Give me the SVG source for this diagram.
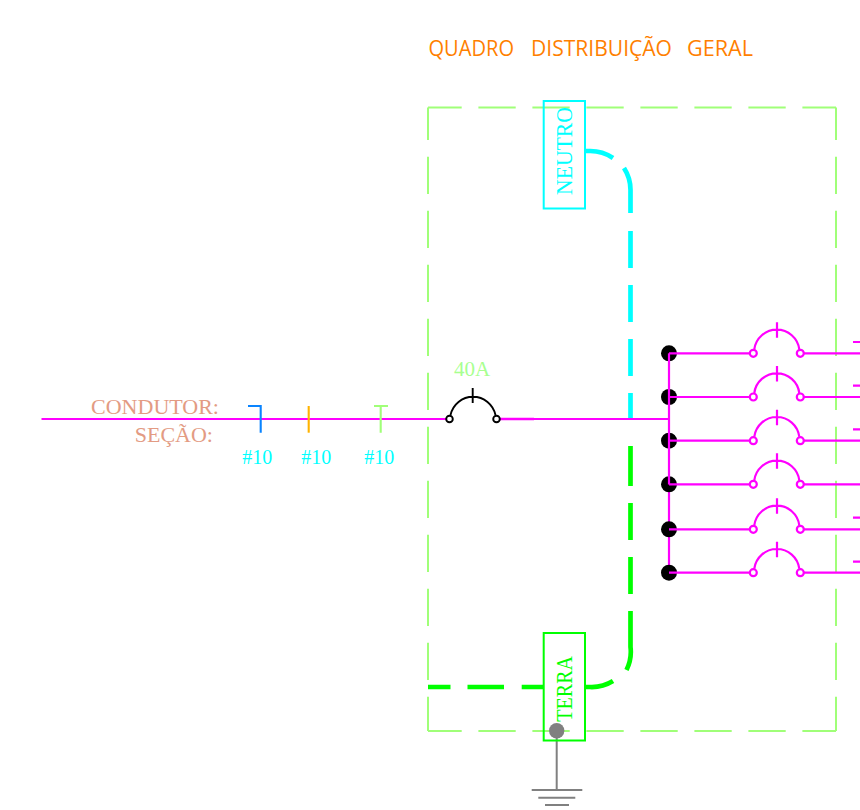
<svg xmlns="http://www.w3.org/2000/svg" width="860" height="810" viewBox="0 0 860 810">
<style>
text{font-family:"Liberation Serif",serif}
.title{font-family:"Open Sans","Liberation Sans",sans-serif;font-size:22px;fill:#ff7f00}
.cond{font-size:22px;fill:#e39b83}
.sec{font-size:20px;fill:#00ffff}
.frame{fill:none;stroke:#a0ff78;stroke-width:2;stroke-dasharray:37.3 16.7}
.m{fill:none;stroke:#ff00ff;stroke-width:2.2}
.mc{fill:#fff;stroke:#ff00ff;stroke-width:2.2}
.k{fill:none;stroke:#000;stroke-width:1.9}
.kc{fill:#fff;stroke:#000;stroke-width:1.9}
.g{fill:none;stroke:#808080;stroke-width:2}
.dot{fill:#000}
</style>
<defs>
<g id="cb">
<path class="m" d="M0 0H81M135 0H191M85.300 -4A22.700 22.700 0 0 1 130.300 -4M108 -31V-15.500"/>
<circle class="mc" cx="84.300" cy="0" r="3.500"/>
<circle class="mc" cx="131.300" cy="0" r="3.500"/>
</g>
</defs>
<text class="title" y="56"><tspan x="428.500" textLength="85.500" lengthAdjust="spacingAndGlyphs">QUADRO</tspan> <tspan x="531" textLength="141" lengthAdjust="spacingAndGlyphs">DISTRIBUIÇÃO</tspan> <tspan x="687" textLength="66" lengthAdjust="spacingAndGlyphs">GERAL</tspan></text>
<g id="frame">
<path class="frame" stroke-dashoffset="3.600" d="M428 107.500H836"/>
<path class="frame" stroke-dashoffset="3.600" d="M428 731H836"/>
<path class="frame" stroke-dashoffset="4.800" d="M428 107.500V731"/>
<path class="frame" stroke-dashoffset="4.800" d="M836 107.500V731"/>
</g>
<g id="connectors">
<path fill="none" stroke="#00ffff" stroke-width="4.700" d="M585 151H590A40.500 40.500 0 0 1 613 158M624 168A40.500 40.500 0 0 1 630.500 191V213M630.500 231V268M630.500 285V322M630.500 339V376M630.500 393V420"/>
<path fill="none" stroke="#00ff00" stroke-width="4.700" d="M630.500 446V486M630.500 503V540M630.500 557V594M630.500 611V647A40.500 40.500 0 0 1 626.500 670M613 681A40.500 40.500 0 0 1 590 687H585M543.700 687H521.700M504 687H467.500M450.500 687H428"/>
<path class="m" d="M41.500 419H446M500 419H669"/>
<path stroke="#ff00ff" stroke-width="2.600" fill="none" d="M500 419H534"/>
<path class="m" d="M669 484.500V573"/>
<g id="ticks">
<path fill="none" stroke="#0a84ff" stroke-width="2.100" d="M248 406H260.700V432.700"/>
<path fill="none" stroke="#ffb300" stroke-width="2.100" d="M308.700 406V432.700"/>
<path fill="none" stroke="#a0ff78" stroke-width="2.100" d="M374 406H388M380.700 406V432.700"/>
</g>
<path class="g" d="M556.700 731V790M531.700 790H582.300M538.300 797.700H575.300M545 805H569"/>
<path class="m" d="M853 342H860M853 385.700H860M853 429.300H860M853 517.700H860M853 561.700H860"/>
</g>
<g id="bus-dots">
<circle class="dot" cx="669" cy="353.300" r="8"/>
<circle class="dot" cx="669" cy="397" r="8"/>
<circle class="dot" cx="669" cy="440.700" r="8"/>
<circle class="dot" cx="669" cy="484.300" r="8"/>
<circle class="dot" cx="669" cy="529.300" r="8"/>
<circle class="dot" cx="669" cy="572.700" r="8"/>
<path class="m" d="M669 353.300V484.500"/>
</g>
<g id="main-breaker">
<path class="k" d="M450.500 415A23 23 0 0 1 495.500 415M472.700 388V403"/>
<circle class="kc" cx="449.500" cy="419" r="3.300"/>
<circle class="kc" cx="496.500" cy="419" r="3.300"/>
<text x="472" y="376" font-size="21" fill="#a8ff90" text-anchor="middle">40A</text>
</g>
<g id="breakers">
<use href="#cb" x="669" y="353.300"/>
<use href="#cb" x="669" y="397"/>
<use href="#cb" x="669" y="440.700"/>
<use href="#cb" x="669" y="484.300"/>
<use href="#cb" x="669" y="529.300"/>
<use href="#cb" x="669" y="572.700"/>
</g>
<g id="labels">
<text class="cond" x="219" y="414" text-anchor="end">CONDUTOR:</text>
<text class="cond" x="213" y="441.700" text-anchor="end">SEÇÃO:</text>
<text class="sec" x="257.300" y="464" text-anchor="middle">#10</text>
<text class="sec" x="316.300" y="464" text-anchor="middle">#10</text>
<text class="sec" x="379.300" y="464" text-anchor="middle">#10</text>
</g>
<g id="neutro">
<rect x="543.700" y="101" width="41.300" height="107.500" fill="none" stroke="#00ffff" stroke-width="2"/>
<text transform="translate(572.300 195) rotate(-90)" font-size="23" fill="#00ffff" textLength="88" lengthAdjust="spacingAndGlyphs">NEUTRO</text>
</g>
<g id="terra">
<rect x="543.700" y="633" width="41.300" height="107.500" fill="none" stroke="#00ff00" stroke-width="2"/>
<text transform="translate(572.300 721.700) rotate(-90)" font-size="23" fill="#00ff00" textLength="65.700" lengthAdjust="spacingAndGlyphs">TERRA</text>
<circle cx="556.700" cy="730.700" r="7.700" fill="#808080"/>
</g>
</svg>
